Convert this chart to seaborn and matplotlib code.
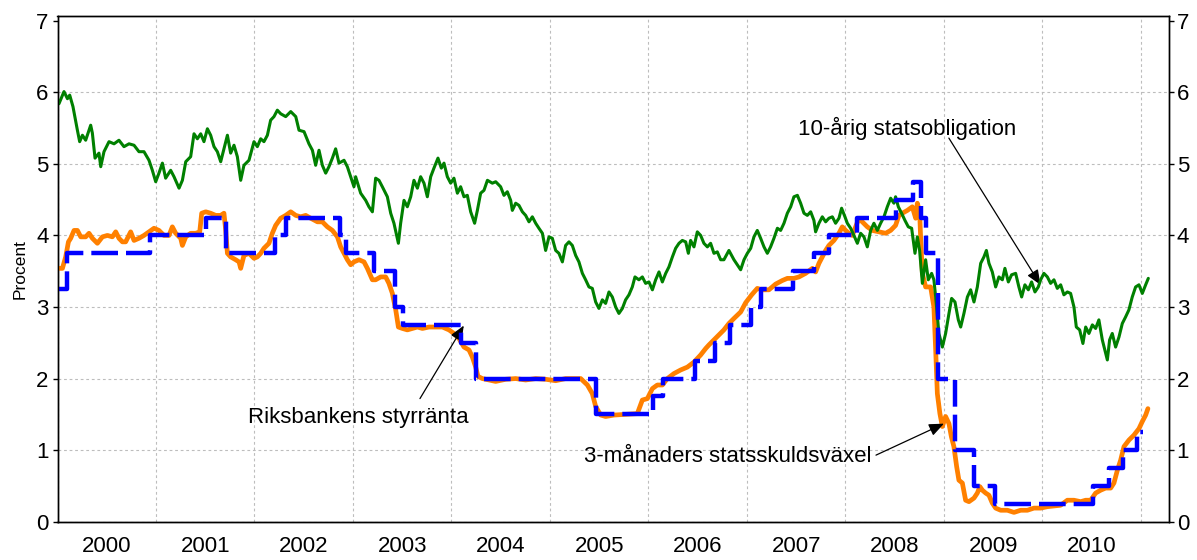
import matplotlib
matplotlib.use("Agg")
import matplotlib.pyplot as plt
import seaborn as sns
from matplotlib.ticker import FixedLocator, NullFormatter, FixedFormatter

# ---------------- data (decimal years, percent) ----------------
bond_year = [
    2000.015, 2000.066, 2000.101, 2000.124, 2000.157, 2000.202, 2000.225, 2000.253, 2000.286, 2000.337,
    2000.354, 2000.381, 2000.421, 2000.439, 2000.472, 2000.523, 2000.574, 2000.624, 2000.675, 2000.726,
    2000.777, 2000.827, 2000.878, 2000.929, 2000.963, 2000.997,
    2001.030, 2001.065, 2001.098, 2001.149, 2001.183, 2001.234, 2001.268, 2001.302, 2001.352, 2001.386,
    2001.420, 2001.454, 2001.487, 2001.522, 2001.555, 2001.589, 2001.623, 2001.657, 2001.690, 2001.725,
    2001.758, 2001.792, 2001.826, 2001.860, 2001.893, 2001.944, 2001.995,
    2002.029, 2002.063, 2002.096, 2002.131, 2002.164, 2002.198, 2002.232, 2002.266, 2002.317, 2002.368,
    2002.419, 2002.452, 2002.503, 2002.553, 2002.588, 2002.621, 2002.655, 2002.689, 2002.723, 2002.756,
    2002.791, 2002.824, 2002.858, 2002.909, 2002.943, 2002.977,
    2003.010, 2003.027, 2003.078, 2003.129, 2003.162, 2003.197, 2003.230, 2003.264, 2003.298, 2003.349,
    2003.383, 2003.416, 2003.461, 2003.484, 2003.518, 2003.552, 2003.586, 2003.619, 2003.654, 2003.687,
    2003.721, 2003.755, 2003.789, 2003.822, 2003.863, 2003.897, 2003.924, 2003.958, 2003.992,
    2004.025, 2004.060, 2004.093, 2004.127, 2004.161, 2004.195, 2004.235, 2004.263, 2004.296, 2004.330,
    2004.365, 2004.415, 2004.449, 2004.499, 2004.533, 2004.567, 2004.601, 2004.618, 2004.652, 2004.685,
    2004.720, 2004.753, 2004.787, 2004.821, 2004.855, 2004.888, 2004.923, 2004.956, 2004.990,
    2005.024, 2005.058, 2005.091, 2005.126, 2005.159, 2005.193, 2005.227, 2005.261, 2005.294, 2005.329,
    2005.362, 2005.396, 2005.430, 2005.464, 2005.497, 2005.532, 2005.565, 2005.599, 2005.633, 2005.667,
    2005.700, 2005.735, 2005.768, 2005.802, 2005.836, 2005.863, 2005.903, 2005.938, 2005.971,
    2006.005, 2006.040, 2006.073, 2006.107, 2006.141, 2006.175, 2006.208, 2006.243, 2006.276, 2006.310,
    2006.344, 2006.378, 2006.405, 2006.428, 2006.462, 2006.496, 2006.530, 2006.563, 2006.598, 2006.631,
    2006.665, 2006.699, 2006.733, 2006.766, 2006.817, 2006.868, 2006.902, 2006.936, 2006.970,
    2007.004, 2007.038, 2007.071, 2007.105, 2007.139, 2007.173, 2007.207, 2007.240, 2007.274, 2007.309,
    2007.342, 2007.376, 2007.410, 2007.444, 2007.477, 2007.512, 2007.545, 2007.579, 2007.613, 2007.647,
    2007.680, 2007.697, 2007.731, 2007.765, 2007.799, 2007.832, 2007.867, 2007.900, 2007.934, 2007.961,
    2007.995,
    2008.019, 2008.053, 2008.086, 2008.121, 2008.154, 2008.188, 2008.222, 2008.256, 2008.289, 2008.324,
    2008.357, 2008.391, 2008.425, 2008.459, 2008.492, 2008.509, 2008.537, 2008.570, 2008.604, 2008.638,
    2008.672, 2008.706, 2008.730, 2008.753, 2008.781, 2008.814, 2008.841, 2008.875, 2008.898, 2008.916,
    2008.949, 2008.984,
    2009.017, 2009.051, 2009.078, 2009.112, 2009.146, 2009.170, 2009.203, 2009.238, 2009.271, 2009.305,
    2009.339, 2009.373, 2009.406, 2009.431, 2009.457, 2009.491, 2009.525, 2009.558, 2009.593, 2009.619,
    2009.654, 2009.687, 2009.728, 2009.761, 2009.789, 2009.822, 2009.857, 2009.890, 2009.924, 2009.958,
    2009.982,
    2010.015, 2010.050, 2010.083, 2010.117, 2010.151, 2010.185, 2010.218, 2010.253, 2010.286, 2010.320,
    2010.344, 2010.378, 2010.411, 2010.439, 2010.472, 2010.507, 2010.540, 2010.573, 2010.608, 2010.634,
    2010.659, 2010.682, 2010.709, 2010.743, 2010.777, 2010.811, 2010.844, 2010.878, 2010.912, 2010.946,
    2010.980,
    2011.014, 2011.048, 2011.075,
]
bond_rate = [
    5.84, 6.01, 5.91, 5.96, 5.80, 5.47, 5.31, 5.40, 5.33, 5.54,
    5.43, 5.08, 5.15, 4.96, 5.17, 5.31, 5.28, 5.33, 5.24, 5.28,
    5.26, 5.17, 5.17, 5.05, 4.91, 4.75,
    4.87, 5.01, 4.80, 4.91, 4.82, 4.66, 4.77, 5.03, 5.10, 5.42,
    5.35, 5.42, 5.31, 5.49, 5.40, 5.24, 5.17, 5.03, 5.21, 5.40,
    5.15, 5.26, 5.10, 4.77, 4.98, 5.05, 5.31,
    5.24, 5.35, 5.31, 5.40, 5.61, 5.66, 5.75, 5.70, 5.66, 5.73,
    5.66, 5.47, 5.45, 5.28, 5.19, 4.98, 5.19, 4.98, 4.87, 4.96,
    5.08, 5.21, 5.01, 5.05, 4.96, 4.82,
    4.68, 4.82, 4.59, 4.49, 4.40, 4.33, 4.80, 4.77, 4.68, 4.54,
    4.31, 4.17, 3.89, 4.17, 4.49, 4.40, 4.54, 4.77, 4.66, 4.82,
    4.73, 4.54, 4.82, 4.94, 5.08, 4.94, 5.01, 4.82, 4.73,
    4.80, 4.59, 4.68, 4.54, 4.56, 4.33, 4.17, 4.35, 4.59, 4.63,
    4.77, 4.73, 4.75, 4.68, 4.56, 4.61, 4.49, 4.35, 4.45, 4.42,
    4.33, 4.28, 4.19, 4.26, 4.17, 4.10, 4.03, 3.79, 3.98,
    3.96, 3.79, 3.75, 3.63, 3.86, 3.91, 3.86, 3.72, 3.63, 3.47,
    3.38, 3.28, 3.26, 3.07, 2.98, 3.10, 3.05, 3.21, 3.14, 3.00,
    2.91, 2.98, 3.10, 3.17, 3.28, 3.42, 3.38, 3.42, 3.33,
    3.35, 3.24, 3.38, 3.49, 3.35, 3.47, 3.56, 3.70, 3.82, 3.89,
    3.93, 3.91, 3.75, 3.93, 3.84, 4.05, 4.00, 3.89, 3.84, 3.89,
    3.75, 3.77, 3.66, 3.66, 3.79, 3.66, 3.59, 3.52, 3.66,
    3.75, 3.82, 3.98, 4.07, 3.96, 3.84, 3.75, 3.84, 3.96, 4.10,
    4.07, 4.17, 4.31, 4.40, 4.54, 4.56, 4.45, 4.31, 4.28, 4.33,
    4.21, 4.05, 4.17, 4.26, 4.19, 4.24, 4.26, 4.17, 4.24, 4.38,
    4.26,
    4.17, 4.10, 4.00, 3.89, 4.03, 3.98, 3.84, 4.07, 4.17, 4.07,
    4.17, 4.26, 4.40, 4.52, 4.45, 4.54, 4.40, 4.31, 4.21, 4.12,
    4.10, 3.75, 3.98, 3.79, 3.33, 3.66, 3.38, 3.47, 3.38, 3.14,
    2.63, 2.44,
    2.63, 2.91, 3.12, 3.07, 2.82, 2.72, 2.91, 3.14, 3.24, 3.07,
    3.28, 3.61, 3.70, 3.79, 3.61, 3.49, 3.28, 3.42, 3.38, 3.54,
    3.35, 3.45, 3.47, 3.28, 3.14, 3.31, 3.24, 3.35, 3.21, 3.28,
    3.38,
    3.47, 3.42, 3.33, 3.38, 3.26, 3.31, 3.17, 3.21, 3.19, 3.00,
    2.72, 2.68, 2.49, 2.72, 2.63, 2.75, 2.70, 2.82, 2.54, 2.40,
    2.26, 2.54, 2.63, 2.44, 2.58, 2.77, 2.86, 2.96, 3.14, 3.28,
    3.31,
    3.19, 3.31, 3.40,
]

bill_year = [
    2000.015, 2000.050, 2000.083, 2000.111, 2000.134, 2000.168, 2000.202, 2000.236, 2000.286, 2000.320,
    2000.354, 2000.405, 2000.456, 2000.507, 2000.557, 2000.591, 2000.624, 2000.659, 2000.692, 2000.743,
    2000.777, 2000.827, 2000.878, 2000.929, 2000.980,
    2001.030, 2001.081, 2001.132, 2001.166, 2001.200, 2001.251, 2001.268, 2001.302, 2001.352, 2001.403,
    2001.444, 2001.464, 2001.505, 2001.555, 2001.606, 2001.657, 2001.690, 2001.708, 2001.725, 2001.758,
    2001.809, 2001.843, 2001.860, 2001.893, 2001.944, 2001.995,
    2002.029, 2002.063, 2002.096, 2002.147, 2002.181, 2002.215, 2002.266, 2002.317, 2002.368, 2002.419,
    2002.469, 2002.520, 2002.571, 2002.639, 2002.689, 2002.740, 2002.791, 2002.842, 2002.875, 2002.909,
    2002.943, 2002.977,
    2003.010, 2003.061, 2003.112, 2003.146, 2003.197, 2003.230, 2003.281, 2003.332, 2003.365, 2003.400,
    2003.434, 2003.461, 2003.502, 2003.552, 2003.603, 2003.654, 2003.705, 2003.772, 2003.840, 2003.908,
    2003.975,
    2004.025, 2004.076, 2004.127, 2004.178, 2004.212, 2004.246, 2004.269, 2004.314, 2004.381, 2004.449,
    2004.551, 2004.652, 2004.753, 2004.855, 2004.956,
    2005.058, 2005.159, 2005.261, 2005.312, 2005.380, 2005.430, 2005.464, 2005.515, 2005.565, 2005.650,
    2005.768, 2005.887, 2005.938, 2005.989,
    2006.040, 2006.090, 2006.141, 2006.192, 2006.259, 2006.327, 2006.395, 2006.462, 2006.530, 2006.581,
    2006.614, 2006.665, 2006.716, 2006.766, 2006.817, 2006.868, 2006.936, 2006.987,
    2007.048, 2007.105, 2007.156, 2007.223, 2007.291, 2007.359, 2007.410, 2007.477, 2007.528, 2007.596,
    2007.664, 2007.697, 2007.731, 2007.765, 2007.799, 2007.832, 2007.883, 2007.934, 2007.968,
    2008.002, 2008.035, 2008.070, 2008.103, 2008.137, 2008.171, 2008.222, 2008.273, 2008.340, 2008.408,
    2008.459, 2008.509, 2008.543, 2008.578, 2008.629, 2008.679, 2008.713, 2008.730, 2008.753, 2008.763,
    2008.781, 2008.814, 2008.865, 2008.898, 2008.916, 2008.933, 2008.959, 2008.984,
    2009.017, 2009.051, 2009.075, 2009.101, 2009.129, 2009.152, 2009.187, 2009.220, 2009.254, 2009.305,
    2009.339, 2009.365, 2009.390, 2009.424, 2009.457, 2009.491, 2009.525, 2009.576, 2009.644, 2009.711,
    2009.779, 2009.847, 2009.914, 2009.982,
    2010.050, 2010.117, 2010.185, 2010.253, 2010.320, 2010.388, 2010.439, 2010.490, 2010.540, 2010.591,
    2010.642, 2010.693, 2010.726, 2010.761, 2010.794, 2010.828, 2010.878, 2010.929, 2010.980,
    2011.014, 2011.048, 2011.071,
]
bill_rate = [
    3.54, 3.54, 3.70, 3.91, 3.96, 4.07, 4.07, 3.98, 3.98, 4.03,
    3.96, 3.89, 3.98, 4.00, 3.98, 4.05, 3.96, 3.91, 3.91, 4.05,
    3.93, 3.96, 4.00, 4.05, 4.10,
    4.07, 4.00, 4.00, 4.12, 4.03, 3.96, 3.86, 3.98, 4.03, 4.03,
    4.05, 4.31, 4.33, 4.31, 4.28, 4.28, 4.31, 4.07, 3.75, 3.70,
    3.66, 3.63, 3.54, 3.72, 3.75, 3.68,
    3.70, 3.75, 3.82, 3.89, 4.03, 4.14, 4.24, 4.28, 4.33, 4.28,
    4.26, 4.28, 4.24, 4.19, 4.19, 4.12, 4.07, 3.98, 3.84, 3.75,
    3.66, 3.59,
    3.63, 3.66, 3.63, 3.54, 3.38, 3.38, 3.42, 3.42, 3.33, 3.19,
    2.96, 2.72, 2.70, 2.68, 2.70, 2.72, 2.70, 2.72, 2.72, 2.72,
    2.68,
    2.63, 2.56, 2.44, 2.40, 2.30, 2.16, 2.03, 2.00, 1.98, 1.96,
    1.99, 2.00, 1.98, 2.00, 1.99,
    1.97, 2.00, 2.00, 2.00, 1.91, 1.79, 1.61, 1.49, 1.47, 1.49,
    1.50, 1.51, 1.70, 1.72,
    1.86, 1.91, 1.91, 2.00, 2.07, 2.12, 2.16, 2.23, 2.33, 2.42,
    2.47, 2.54, 2.61, 2.68, 2.77, 2.84, 2.93, 3.06,
    3.17, 3.26, 3.24, 3.24, 3.32, 3.37, 3.40, 3.40, 3.42, 3.47,
    3.54, 3.49, 3.61, 3.70, 3.79, 3.86, 3.93, 4.03, 4.12,
    4.07, 4.03, 4.00, 4.12, 4.24, 4.19, 4.12, 4.07, 4.05, 4.03,
    4.07, 4.14, 4.28, 4.31, 4.35, 4.40, 4.24, 4.45, 4.33, 3.98,
    3.47, 3.28, 3.28, 3.00, 2.40, 1.79, 1.51, 1.33,
    1.47, 1.37, 1.19, 1.05, 0.77, 0.58, 0.54, 0.30, 0.28, 0.33,
    0.40, 0.49, 0.44, 0.40, 0.37, 0.26, 0.19, 0.16, 0.16, 0.13,
    0.16, 0.16, 0.19, 0.19,
    0.21, 0.22, 0.23, 0.30, 0.30, 0.28, 0.30, 0.30, 0.40, 0.44,
    0.47, 0.47, 0.54, 0.72, 0.86, 1.05, 1.14, 1.21, 1.30,
    1.40, 1.49, 1.58,
]

repo_year = [
    2000.005, 2000.095, 2000.937, 2001.510, 2001.710, 2002.210, 2002.320, 2002.870, 2002.930, 2003.210,
    2003.430, 2003.510, 2004.100, 2004.250, 2005.470, 2006.050, 2006.150, 2006.470, 2006.680, 2006.830,
    2007.040, 2007.140, 2007.470, 2007.680, 2007.830, 2008.120, 2008.510, 2008.690, 2008.770, 2008.820,
    2008.940, 2009.110, 2009.310, 2009.520, 2010.510, 2010.680, 2010.820, 2010.960, 2011.020,
]
repo_rate = [
    3.25, 3.75, 4.00, 4.25, 3.75, 4.00, 4.25, 4.00, 3.75, 3.50,
    3.00, 2.75, 2.50, 2.00, 1.50, 1.75, 2.00, 2.25, 2.50, 2.75,
    3.00, 3.25, 3.50, 3.75, 4.00, 4.25, 4.50, 4.75, 4.25, 3.75,
    2.00, 1.00, 0.50, 0.25, 0.50, 0.75, 1.00, 1.25, 1.25,
]

year_labels = ["2000", "2001", "2002", "2003", "2004", "2005",
               "2006", "2007", "2008", "2009", "2010"]
y_ticks = [0, 1, 2, 3, 4, 5, 6, 7]

# ---------------- styling ----------------
sns.set_style("white")
plt.rcParams['font.family'] = ['Liberation Sans', 'DejaVu Sans']
plt.rcParams['text.color'] = 'black'
plt.rcParams['axes.labelcolor'] = 'black'
plt.rcParams['xtick.color'] = 'black'
plt.rcParams['ytick.color'] = 'black'

C_BOND = "#008000"
C_BILL = "#FF8000"
C_REPO = "#0000FF"

fig = plt.figure(figsize=(11.97, 5.6), dpi=100)
ax = fig.add_axes([57.5 / 1197, 1 - 521.7 / 560, (1169 - 57.5) / 1197, (521.7 - 15.7) / 560])

sns.lineplot(x=bill_year, y=bill_rate, ax=ax, color=C_BILL, linewidth=3.4,
             legend=False, sort=False, zorder=3)
sns.lineplot(x=bond_year, y=bond_rate, ax=ax, color=C_BOND, linewidth=2.2,
             legend=False, sort=False, zorder=4)
sns.lineplot(x=repo_year, y=repo_rate, ax=ax, color=C_REPO, linewidth=3.2,
             drawstyle="steps-post", linestyle=(0, (6.0, 1.8)),
             legend=False, sort=False, zorder=5)

ax.set_xlim(2000.0, 2011.285)
ax.set_ylim(0, 7.07)

# x axis: ticks at year boundaries, labels centred in each year
ax.xaxis.set_major_locator(FixedLocator(list(range(2000, 2012))))
ax.xaxis.set_major_formatter(NullFormatter())
ax.xaxis.set_minor_locator(FixedLocator([2000.5 + i for i in range(len(year_labels))]))
ax.xaxis.set_minor_formatter(FixedFormatter(year_labels))
ax.tick_params(axis="x", which="major", direction="out", length=5, width=1, color="black")
ax.tick_params(axis="x", which="minor", length=0, pad=10, labelsize=16, labelcolor="black")

ax.set_yticks(y_ticks)
ax.tick_params(axis="y", direction="out", length=3.5, width=1, color="black",
               labelsize=16, pad=3, left=True, labelcolor="black")

ax.grid(True, which="major", axis="both", color="#bdbdbd", linestyle=(0, (2.5, 2.5)), linewidth=0.8)
ax.get_ygridlines()[-1].set_visible(False)
ax.set_axisbelow(True)

for sp in ax.spines.values():
    sp.set_color("black")
    sp.set_linewidth(1.0)
    sp.set_visible(True)

ax.set_xlabel("")
ax.set_ylabel("Procent", fontsize=12.5, labelpad=6, color="black")

ax2 = ax.twinx()
ax2.set_ylim(ax.get_ylim())
ax2.set_yticks(y_ticks)
ax2.tick_params(axis="y", direction="out", length=3.5, width=1, color="black",
                labelsize=16, pad=2, right=True, labelcolor="black")
ax2.grid(False)
for sp in ax2.spines.values():
    sp.set_color("black")
    sp.set_linewidth(1.0)

# ---------------- annotations ----------------
arrow = dict(arrowstyle="-|>,head_length=0.6,head_width=0.25", color="black",
             lw=0.9, mutation_scale=15, shrinkA=0, shrinkB=0)

ax.text(2001.93, 1.45, "Riksbankens styrränta", fontsize=16, ha="left", va="center", color="black")
ax.annotate("", xy=(2004.125, 2.74), xytext=(2003.68, 1.72), arrowprops=arrow)

ax.text(2005.345, 0.91, "3-månaders statsskuldsväxel", fontsize=16, ha="left", va="center", color="black")
ax.annotate("", xy=(2009.0, 1.37), xytext=(2008.31, 0.93), arrowprops=arrow)

ax.text(2007.52, 5.49, "10-årig statsobligation", fontsize=16, ha="left", va="center", color="black")
ax.annotate("", xy=(2009.98, 3.31), xytext=(2009.05, 5.36), arrowprops=arrow)

fig.savefig("out.png", dpi=100)
